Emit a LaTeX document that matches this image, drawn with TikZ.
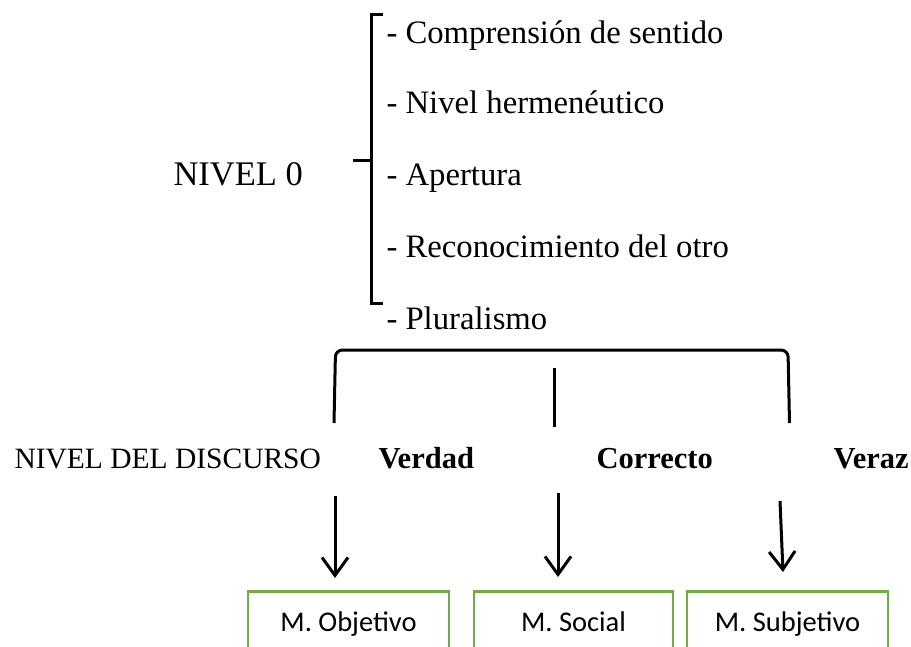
\documentclass[tikz,border=0pt]{standalone}
\usepackage{fontspec}
\setmainfont{Liberation Serif}
\newfontfamily\boxfont{Carlito}
\usetikzlibrary{arrows.meta}
\definecolor{boxgreen}{RGB}{112,173,71}
\begin{document}
\begin{tikzpicture}[x=1pt,y=-1pt,line width=3pt,
  toptxt/.style={anchor=base west,inner sep=0pt,font=\fontsize{32.7}{36}\selectfont},
  lowtxt/.style={anchor=base west,inner sep=0pt,font=\fontsize{29.5}{34}\selectfont},
  lowbold/.style={anchor=base west,inner sep=0pt,font=\fontsize{30.5}{34}\selectfont\bfseries},
  mbox/.style={draw=boxgreen,line width=2.5pt,anchor=north,inner sep=0pt,text height=40pt,text depth=30pt,font=\boxfont\fontsize{28.5}{32}\selectfont},
  arr/.style={-{Straight Barb[length=18pt,width=26pt]}}]
\useasboundingbox (0,0) rectangle (911,646);
\clip (0,0) rectangle (911,646);
% top list
\node[toptxt,font=\fontsize{34.5}{38}\selectfont] (nivel0) at (172,185) {NIVEL 0};
\node[toptxt] (i1) at (385,43) {- Comprensión de sentido};
\node[toptxt] (i2) at (385,113) {- Nivel hermenéutico};
\node[toptxt] (i3) at (385,185) {- Apertura};
\node[toptxt] (i4) at (385,257) {- Reconocimiento del otro};
\node[toptxt] (i5) at (385,329) {- Pluralismo};
% brace
\draw[line join=miter] (383,14) -| (371,160) -- (353,160) (371,160) |- (383,303);
% bracket
\draw[rounded corners=7pt] (334,423) -- (335.5,350) -- (788,350) -- (789.5,423);
\draw (554,368) -- (554,427);
% level texts
\node[lowtxt] (disc) at (13,468) {NIVEL DEL DISCURSO};
\node[lowbold] (verdad) at (377,468) {Verdad};
\node[lowbold] (correcto) at (595,468) {Correcto};
\node[lowbold] (veraz) at (832,468) {Veraz};
% boxes
\node[mbox,minimum width=201pt] (mobj) at (348.5,590) {M. Objetivo};
\node[mbox,minimum width=199pt] (msoc) at (573.5,590) {M. Social};
\node[mbox,minimum width=201pt] (msub) at (787.5,590) {M. Subjetivo};
% arrows
\coordinate (a1s) at (335,496);
\coordinate (a1e) at (335,578);
\coordinate (a2s) at (558,493);
\coordinate (a2e) at (558,577);
\coordinate (a3s) at (780,501);
\coordinate (a3e) at (783,572);
\draw[arr] (a1s) -- (a1e);
\draw[arr] (a2s) -- (a2e);
\draw[arr] (a3s) -- (a3e);
\end{tikzpicture}
\end{document}
